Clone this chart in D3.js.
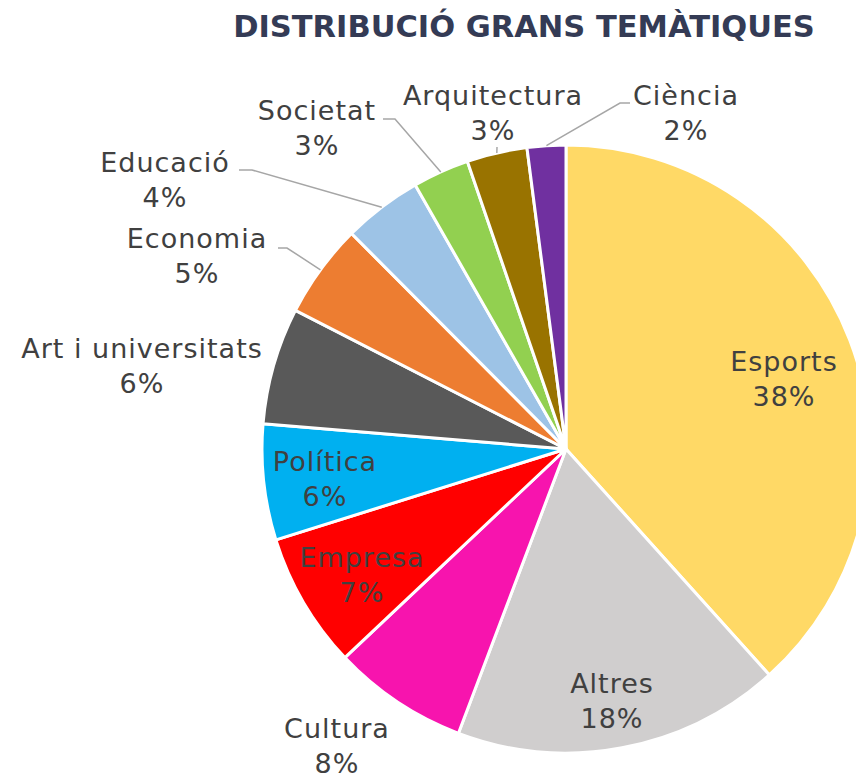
<!DOCTYPE html>
<html lang="ca">
<head>
<meta charset="UTF-8">
<title>Distribució grans temàtiques</title>
<script src="https://d3js.org/d3.v7.min.js"></script>
<style>
    body { margin: 0; background: #fff; }
    svg text { font-family: "DejaVu Sans", sans-serif; }
</style>
</head>
<body>
<div id="chart"></div>
<script>
    var categories = ["Esports", "Altres", "Cultura", "Empresa", "Política", "Art i universitats",
                      "Economia", "Educació", "Societat", "Arquitectura", "Ciència"];
    var shares = [38.3, 17.4, 7.2, 7.2, 6.15, 6.2, 5.0, 4.2, 3.0, 3.2, 2.05];
    var pctLabels = ["38%", "18%", "8%", "7%", "6%", "6%", "5%", "4%", "3%", "3%", "2%"];
    var colors = ["#FFD966", "#D0CECE", "#F714AE", "#FF0000", "#00B0F0", "#595959",
                  "#ED7D31", "#9DC3E6", "#92D050", "#997300", "#7030A0"];

    var width = 856, height = 777;
    var cx = 566, cy = 449, radius = 304;

    // label layout: text centre x, first-line baseline, optional leader start points
    var labelLayout = {
        "Esports":            { x: 784, y: 371 },
        "Altres":             { x: 612, y: 693 },
        "Cultura":            { x: 337, y: 738 },
        "Empresa":            { x: 362, y: 567 },
        "Política":           { x: 325, y: 471 },
        "Art i universitats": { x: 142, y: 358 },
        "Economia":           { x: 197, y: 248, leader: [[278, 248], [287, 248]] },
        "Educació":           { x: 165, y: 172, leader: [[239, 170], [252, 170]] },
        "Societat":           { x: 317, y: 120, leader: [[383, 119], [395, 119]] },
        "Arquitectura":       { x: 493, y: 105, leader: [[497, 147]] },
        "Ciència":            { x: 686, y: 105, leader: [[630, 103], [620, 103]] }
    };

    var svg = d3.select("#chart").append("svg")
        .attr("width", width)
        .attr("height", height);

    svg.append("text")
        .attr("x", 524)
        .attr("y", 37)
        .attr("text-anchor", "middle")
        .style("font-size", "30.5px")
        .style("font-weight", "bold")
        .style("fill", "#343B55")
        .text("DISTRIBUCIÓ GRANS TEMÀTIQUES");

    var data = categories.map(function (c, i) {
        return { name: c, value: shares[i], label: pctLabels[i], color: colors[i] };
    });

    var pie = d3.pie().sort(null).value(function (d) { return d.value; });
    var arc = d3.arc().innerRadius(0).outerRadius(radius);
    var arcs = pie(data);

    var g = svg.append("g").attr("transform", "translate(" + cx + "," + cy + ")");

    g.selectAll("path.slice")
        .data(arcs)
        .enter().append("path")
        .attr("class", "slice")
        .attr("d", arc)
        .attr("fill", function (d) { return d.data.color; })
        .attr("stroke", "#fff")
        .attr("stroke-width", 3)
        .attr("stroke-linejoin", "round");

    // leader lines to the arc edge at each slice's mid angle
    arcs.forEach(function (d) {
        var lay = labelLayout[d.data.name];
        if (!lay.leader) return;
        var a = (d.startAngle + d.endAngle) / 2;
        var end = [cx + radius * Math.sin(a), cy - radius * Math.cos(a)];
        svg.append("path")
            .attr("d", d3.line()(lay.leader.concat([end])))
            .attr("fill", "none")
            .attr("stroke", "#A6A6A6")
            .attr("stroke-width", 1.5);
    });

    var labels = svg.selectAll("text.lbl")
        .data(arcs)
        .enter().append("text")
        .attr("class", "lbl")
        .attr("text-anchor", "middle")
        .style("font-size", "27px")
        .style("letter-spacing", "1px")
        .style("fill", "#404040");

    labels.append("tspan")
        .attr("x", function (d) { return labelLayout[d.data.name].x; })
        .attr("y", function (d) { return labelLayout[d.data.name].y; })
        .text(function (d) { return d.data.name; });

    labels.append("tspan")
        .attr("x", function (d) { return labelLayout[d.data.name].x; })
        .attr("y", function (d) { return labelLayout[d.data.name].y + 35; })
        .text(function (d) { return d.data.label; });
</script>
</body>
</html>
